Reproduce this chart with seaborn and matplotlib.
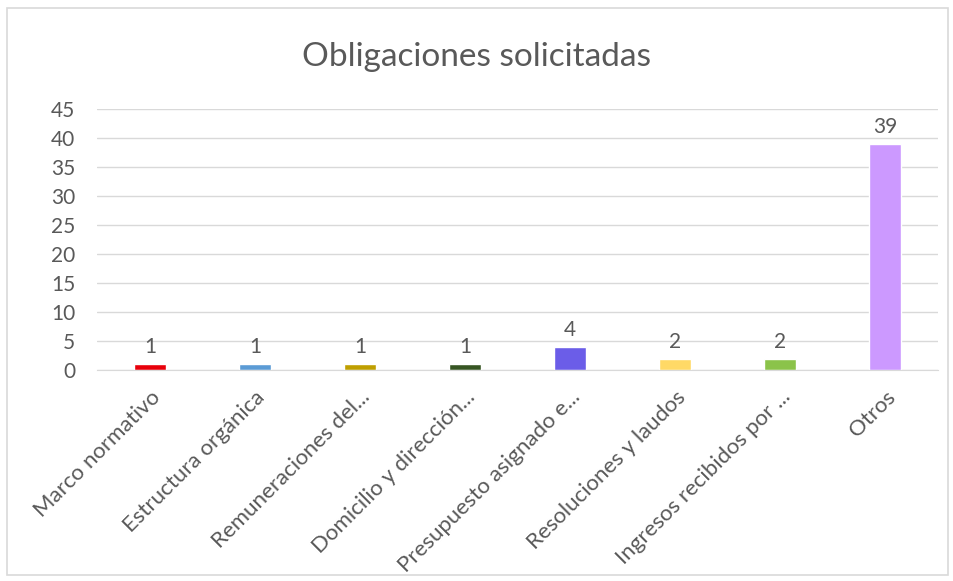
import matplotlib.pyplot as plt
import pandas as pd
import seaborn as sns
from matplotlib.patches import Rectangle

# Data
categories = ['Marco normativo', 'Estructura orgánica', 'Remuneraciones del...',
              'Domicilio y dirección...', 'Presupuesto asignado e...',
              'Resoluciones y laudos', 'Ingresos recibidos por ...', 'Otros']
values = [1, 1, 1, 1, 4, 2, 2, 39]
colors = ['#e8000b', '#5b9bd5', '#bf9f00', '#375623', '#6b5de8',
          '#ffd966', '#8bc34a', '#cc99ff']
yticks = [0, 5, 10, 15, 20, 25, 30, 35, 40, 45]

df = pd.DataFrame({'cat': categories, 'val': values})

sns.set_style('white')
plt.rcParams['font.family'] = ['Lato', 'DejaVu Sans']
text_color = '#595959'

fig = plt.figure(figsize=(9.54, 5.81), dpi=100)
ax = fig.add_axes([0.102, 0.363, 0.881, 0.449])

sns.barplot(data=df, x='cat', y='val', hue='cat', palette=colors,
            width=0.3, legend=False, ax=ax, saturation=1)

for c in ax.containers:
    ax.bar_label(c, padding=5, fontsize=15, color=text_color)

ax.set_xlim(-0.5, len(categories) - 0.5)
ax.set_ylim(0, 45)
ax.set_yticks(yticks)
ax.yaxis.grid(True, color='#d9d9d9', linewidth=1)
ax.set_axisbelow(True)
for s in ['top', 'right', 'left']:
    ax.spines[s].set_visible(False)
ax.spines['bottom'].set_color('#d9d9d9')
ax.set_xlabel('')
ax.set_ylabel('')
ax.tick_params(axis='both', length=0, colors=text_color)
ax.tick_params(axis='y', pad=16, labelsize=15)
ax.tick_params(axis='x', pad=12, labelsize=16)
plt.setp(ax.get_xticklabels(), rotation=45, ha='right', rotation_mode='anchor')

fig.text(0.5, 0.902, 'Obligaciones solicitadas', ha='center', va='center',
         fontsize=24, color=text_color)

# outer frame
fig.patches.append(Rectangle((0.007, 0.01), 0.987, 0.976, transform=fig.transFigure,
                             fill=False, edgecolor='#d9d9d9', linewidth=1.2))

plt.savefig('out.png', dpi=100)
